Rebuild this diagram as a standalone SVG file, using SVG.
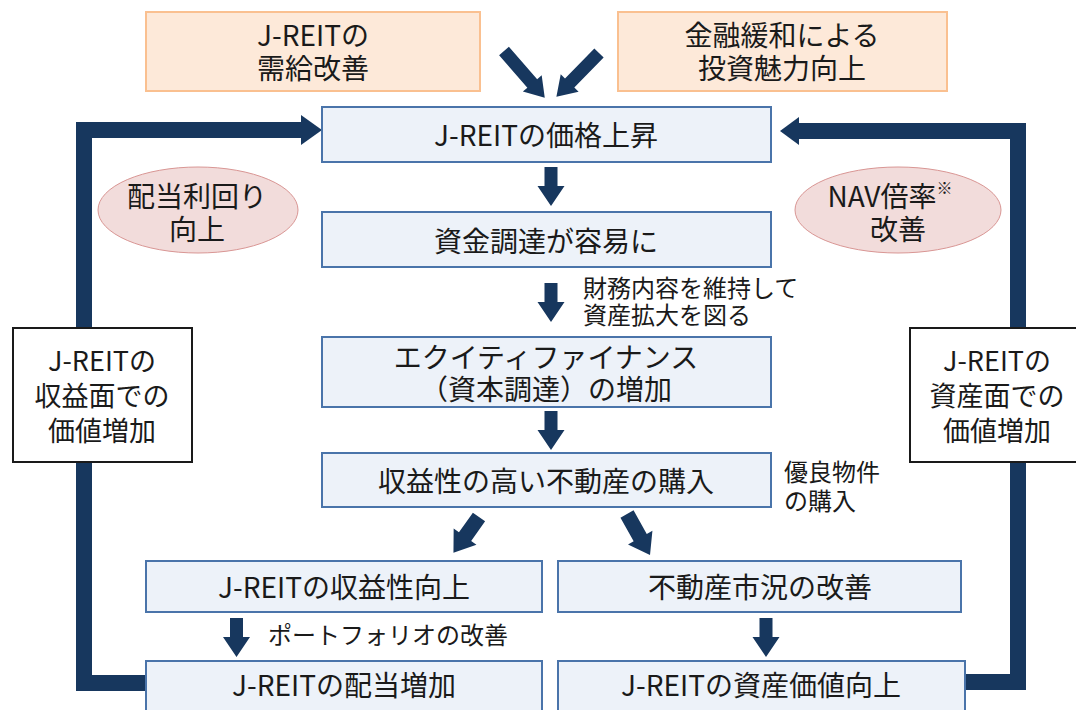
<svg xmlns="http://www.w3.org/2000/svg" xmlns:xlink="http://www.w3.org/1999/xlink" width="1076" height="710" viewBox="0 0 1076 710">
<style>
text{font-family:"Noto Sans CJK JP","Noto Sans",sans-serif;fill:#1a1a1a;text-anchor:middle;dominant-baseline:central}
.t28{font-size:28px}
.t27{font-size:27px}
.lbl{font-size:24px;text-anchor:start}
.box{fill:#edf2f9;stroke:#4a74aa;stroke-width:2}
.org{fill:#fde9d9;stroke:#fac090;stroke-width:2}
.ell{fill:#f2dcdb;stroke:#d99694;stroke-width:1}
.side{fill:#ffffff;stroke:#1a1a1a;stroke-width:2}
.arr{fill:#17375e}
.bar{fill:none;stroke:#17375e;stroke-width:16;stroke-linejoin:miter;stroke-linecap:butt}
</style>
<defs>
<polygon id="down" points="-6.5,0 6.5,0 6.5,19 13.5,19 0,39 -13.5,19 -6.5,19"/>
</defs>
<rect width="1076" height="710" fill="#ffffff"/>

<g id="connectors">
<polyline class="bar" points="146,683 84,683 84,130 302,130"/>
<polygon class="arr" points="301,115 322,130 301,145"/>
<polyline class="bar" points="966,682 1018,682 1018,131 798,131"/>
<polygon class="arr" points="799,117 780,131 799,145"/>
<polygon class="arr" transform="translate(504,51) rotate(48.9)" points="0,-6.5 43,-6.5 43,-12.5 62,0 43,12.5 43,6.5 0,6.5"/>
<polygon class="arr" transform="translate(599,53) rotate(134.3)" points="0,-6.5 42,-6.5 42,-12.5 61,0 42,12.5 42,6.5 0,6.5"/>
<use href="#down" class="arr" x="551" y="167"/>
<use href="#down" class="arr" x="551" y="283"/>
<use href="#down" class="arr" x="551" y="411"/>
<polygon class="arr" transform="translate(479,517) rotate(125.5)" points="0,-7.5 24,-7.5 24,-14 44,0 24,14 24,7.5 0,7.5"/>
<polygon class="arr" transform="translate(627,514) rotate(60.7)" points="0,-7.5 27,-7.5 27,-14 47,0 27,14 27,7.5 0,7.5"/>
<use href="#down" class="arr" x="236.5" y="618"/>
<use href="#down" class="arr" x="766" y="618"/>
</g>

<g id="supply">
<rect class="org" x="146" y="12" width="334" height="79"/>
<text class="t28"><tspan x="313" y="34">J-REITの</tspan><tspan x="313" y="67">需給改善</tspan></text>
</g>
<g id="easing">
<rect class="org" x="618" y="12" width="329" height="79"/>
<text class="t28"><tspan x="782" y="34">金融緩和による</tspan><tspan x="782" y="67">投資魅力向上</tspan></text>
</g>

<g id="price">
<rect class="box" x="322" y="107" width="449" height="55"/>
<text class="t28" x="546" y="134">J-REITの価格上昇</text>
</g>
<g id="funding">
<rect class="box" x="322" y="212" width="449" height="55"/>
<text class="t28" x="546" y="240">資金調達が容易に</text>
</g>
<g id="label-expand">
<text class="lbl"><tspan x="583" y="286">財務内容を維持して</tspan><tspan x="583" y="313">資産拡大を図る</tspan></text>
</g>
<g id="equity">
<rect class="box" x="322" y="337" width="449" height="70"/>
<text class="t28"><tspan x="546" y="356">エクイティファイナンス</tspan><tspan x="546" y="388">（資本調達）の増加</tspan></text>
</g>
<g id="purchase">
<rect class="box" x="322" y="453" width="449" height="54"/>
<text class="t28" x="546" y="480">収益性の高い不動産の購入</text>
</g>
<g id="label-good">
<text class="lbl"><tspan x="784" y="470">優良物件</tspan><tspan x="784" y="499">の購入</tspan></text>
</g>
<g id="profit">
<rect class="box" x="146" y="561" width="396" height="51"/>
<text class="t28" x="344" y="586">J-REITの収益性向上</text>
</g>
<g id="market">
<rect class="box" x="558" y="561" width="403" height="51"/>
<text class="t28" x="760" y="586">不動産市況の改善</text>
</g>
<g id="label-portfolio">
<text class="lbl" x="268" y="633">ポートフォリオの改善</text>
</g>
<g id="dividend">
<rect class="box" x="146" y="661" width="396" height="60"/>
<text class="t28" x="344" y="684">J-REITの配当増加</text>
</g>
<g id="assetvalue">
<rect class="box" x="558" y="661" width="407" height="60"/>
<text class="t28" x="761" y="684">J-REITの資産価値向上</text>
</g>

<g id="yield">
<ellipse class="ell" cx="198" cy="210" rx="100" ry="43"/>
<text class="t28"><tspan x="197" y="195">配当利回り</tspan><tspan x="197" y="228">向上</tspan></text>
</g>
<g id="nav">
<ellipse class="ell" cx="898" cy="210" rx="103" ry="43"/>
<text class="t28"><tspan x="890" y="195">NAV倍率</tspan><tspan font-size="16" dy="-8">※</tspan><tspan x="898" y="228">改善</tspan></text>
</g>

<g id="income-side">
<rect class="side" x="13" y="328" width="179" height="134"/>
<text class="t27"><tspan x="102" y="359">J-REITの</tspan><tspan x="102" y="394">収益面での</tspan><tspan x="102" y="429">価値増加</tspan></text>
</g>
<g id="asset-side">
<rect class="side" x="910" y="328" width="175" height="134"/>
<text class="t27"><tspan x="997" y="359">J-REITの</tspan><tspan x="997" y="394">資産面での</tspan><tspan x="997" y="429">価値増加</tspan></text>
</g>
</svg>
